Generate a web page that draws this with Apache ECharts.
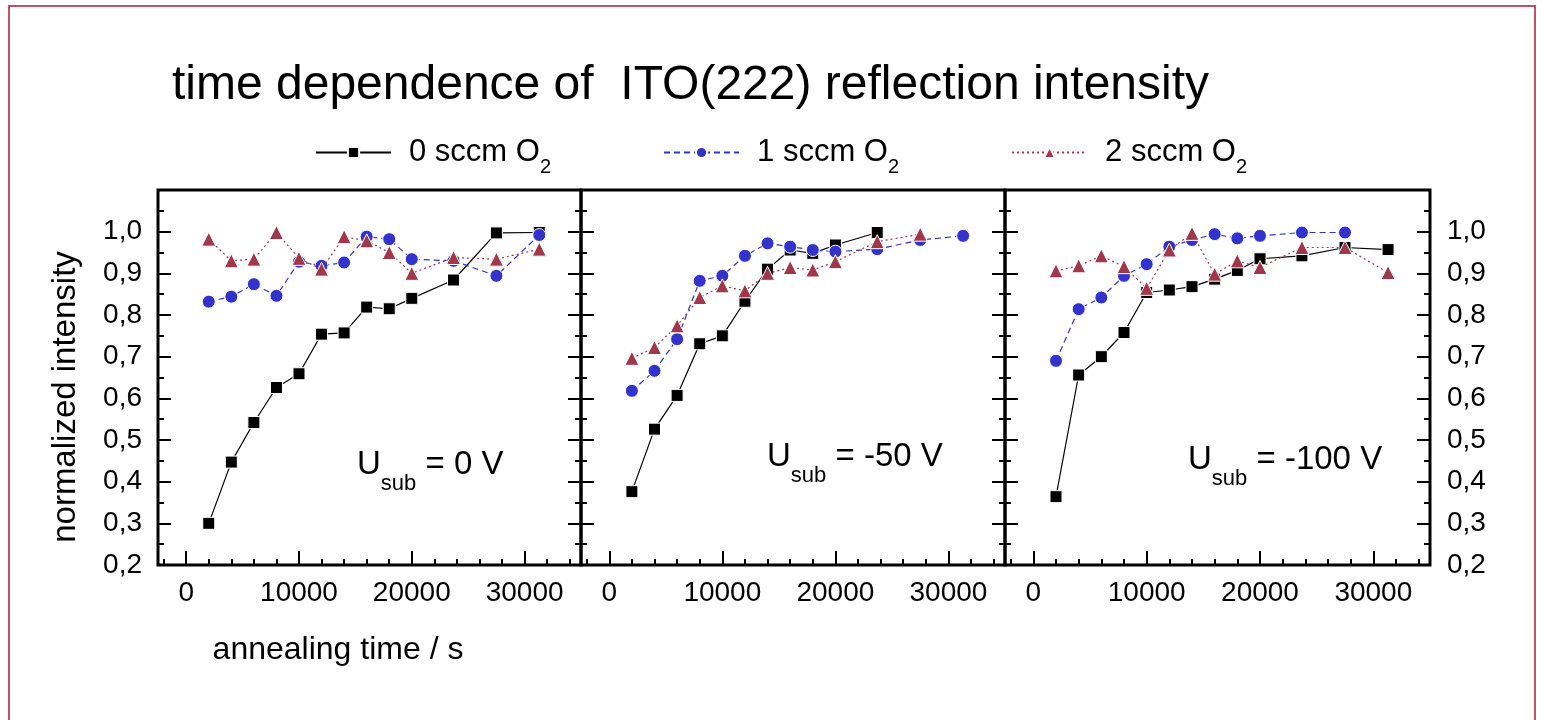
<!DOCTYPE html>
<html><head><meta charset="utf-8">
<script src="https://cdn.jsdelivr.net/npm/echarts@6/dist/echarts.min.js"></script>
<style>html,body{margin:0;padding:0;background:#fff}#c{width:1545px;height:720px}</style>
</head><body><div id="c"></div>
<script>
// ---- data ----
const times = [2000, 4000, 6000, 8000, 10000, 12000, 14000, 16000, 18000, 20000, 23700, 27500, 31300];
const seriesNames = ['0 sccm O2', '1 sccm O2', '2 sccm O2'];
const panelLabels = ['0 V', '-50 V', '-100 V'];
const xMajorTicks = [0, 10000, 20000, 30000];
const xMinorTicks = [-2000, 2000, 4000, 6000, 8000, 12000, 14000, 16000, 18000, 22000, 24000, 26000, 28000, 32000, 34000];

// U_sub = 0 V
const p1_0sccm = [0.300, 0.447, 0.542, 0.626, 0.659, 0.754, 0.757, 0.819, 0.815, 0.840, 0.884, 0.997, 0.998];
const p1_1sccm = [0.832, 0.844, 0.874, 0.846, 0.928, 0.918, 0.926, 0.988, 0.982, 0.934, 0.930, 0.894, 0.992];
const p1_2sccm = [0.982, 0.930, 0.934, 0.998, 0.936, 0.910, 0.988, 0.978, 0.950, 0.900, 0.938, 0.934, 0.958];
// U_sub = -50 V
const p2_0sccm = [0.376, 0.526, 0.607, 0.731, 0.750, 0.833, 0.910, 0.956, 0.948, 0.968, 0.998];
const p2_1sccm = [0.618, 0.666, 0.742, 0.882, 0.894, 0.942, 0.972, 0.964, 0.956, 0.952, 0.958, 0.980, 0.990];
const p2_2sccm = [0.696, 0.722, 0.774, 0.842, 0.870, 0.858, 0.900, 0.914, 0.908, 0.928, 0.976, 0.994];
// U_sub = -100 V
const p3_0sccm = [0.364, 0.656, 0.700, 0.758, 0.854, 0.860, 0.868, 0.886, 0.907, 0.935, 0.942, 0.962, 0.957];
const p3_1sccm = [0.690, 0.814, 0.842, 0.894, 0.922, 0.964, 0.980, 0.994, 0.984, 0.990, 0.998, 0.998];
const p3_2sccm = [0.906, 0.918, 0.942, 0.916, 0.864, 0.956, 0.996, 0.898, 0.930, 0.914, 0.962, 0.962, 0.902];

const panels = [
  [p1_0sccm, p1_1sccm, p1_2sccm],
  [p2_0sccm, p2_1sccm, p2_2sccm],
  [p3_0sccm, p3_1sccm, p3_2sccm]
];

// ---- style ----
const FONT = "'Liberation Sans', Arial, sans-serif";
const styles = [
  { symbol: 'rect', size: 12, color: '#000000', type: 'solid' },
  { symbol: 'circle', size: 13, color: '#3333cc', type: [6, 4] },
  { symbol: 'triangle', size: 14, color: '#a0374b', type: [2, 3] }
];
const gridLefts = [158, 581, 1005];
const gridWidths = [423, 424, 425];
const gridTop = 190, gridHeight = 375;
const annotPos = [[357, 435], [767, 427], [1188, 430]];

const grids = [], xAxes = [], yAxes = [], series = [];
const yFmt = v => (v > 1.05 ? '' : v.toFixed(1).replace('.', ','));

for (let i = 0; i < 3; i++) {
  grids.push({ left: gridLefts[i], top: gridTop, width: gridWidths[i], height: gridHeight,
    show: true, borderColor: '#000', borderWidth: 3, containLabel: false });
  // major x axis
  xAxes.push({ type: 'value', gridIndex: i, min: -2500, max: 35000, position: 'bottom',
    axisLine: { show: false, onZero: false }, splitLine: { show: false },
    axisTick: { show: true, inside: true, length: 14, customValues: xMajorTicks, lineStyle: { color: '#000', width: 2 } },
    axisLabel: { show: true, customValues: xMajorTicks, formatter: v => String(v), margin: 14, fontSize: 28, color: '#000', fontFamily: FONT }
  });
  // minor x axis
  xAxes.push({ type: 'value', gridIndex: i, min: -2500, max: 35000, position: 'bottom',
    axisLine: { show: false, onZero: false }, splitLine: { show: false },
    axisTick: { show: true, inside: true, length: 6, customValues: xMinorTicks, lineStyle: { color: '#000', width: 2 } },
    axisLabel: { show: false }
  });
  ['left', 'right'].forEach(pos => {
    const showLabel = (i === 0 && pos === 'left') || (i === 2 && pos === 'right');
    yAxes.push({ type: 'value', gridIndex: i, min: 0.2, max: 1.1, interval: 0.1, position: pos,
      axisLine: { show: false, onZero: false }, splitLine: { show: false },
      axisTick: { show: true, inside: true, length: 13, lineStyle: { color: '#000', width: 2 } },
      minorTick: { show: true, splitNumber: 2, length: 6, lineStyle: { color: '#000', width: 2 } },
      axisLabel: { show: showLabel, formatter: yFmt, margin: pos === 'left' ? 16 : 17, fontSize: 28, color: '#000', fontFamily: FONT }
    });
  });
  for (let s = 0; s < 3; s++) {
    const vals = panels[i][s];
    const st = styles[s];
    series.push({
      type: 'line', name: seriesNames[s], xAxisIndex: 2 * i, yAxisIndex: 2 * i,
      data: vals.map((v, k) => [times[k], v]),
      symbol: st.symbol, symbolSize: st.size, showAllSymbol: true,
      itemStyle: { color: st.color, borderColor: '#ffffff', borderWidth: 1 },
      lineStyle: { color: st.color, width: 1.2, type: st.type },
      emphasis: { disabled: true }, animation: false, z: 2 + s
    });
  }
}

const titles = [{
  text: 'time dependence of  ITO(222) reflection intensity', left: 172, top: 57, padding: 0,
  textStyle: { fontSize: 48, fontWeight: 'normal', lineHeight: 58, color: '#000', fontFamily: FONT }
}];
for (let i = 0; i < 3; i++) {
  titles.push({
    text: '{u|U}{s|sub}{u| = ' + panelLabels[i] + '}', left: annotPos[i][0], top: annotPos[i][1], padding: 0,
    textStyle: { fontWeight: 'normal', rich: {
      u: { fontSize: 33, fontWeight: 'normal', lineHeight: 60, verticalAlign: 'middle', color: '#000', fontFamily: FONT },
      s: { fontSize: 22, fontWeight: 'normal', lineHeight: 22, verticalAlign: 'bottom', color: '#000', fontFamily: FONT }
    } }
  });
}

const option = {
  backgroundColor: '#fff',
  animation: false,
  title: titles,
  legend: {
    data: seriesNames, left: 315, top: 137, padding: 0, itemWidth: 75, itemHeight: 14, itemGap: 112,
    selectedMode: false,
    formatter: n => '{m|' + n.slice(0, -1) + '}{s|' + n.slice(-1) + '}',
    textStyle: { rich: {
      m: { fontSize: 31, lineHeight: 50, verticalAlign: 'middle', padding: [0, 0, 0, 13], color: '#000', fontFamily: FONT },
      s: { fontSize: 20, lineHeight: 20, verticalAlign: 'bottom', color: '#000', fontFamily: FONT }
    } }
  },
  grid: grids, xAxis: xAxes, yAxis: yAxes, series: series,
  graphic: [
    { type: 'rect', shape: { x: 9, y: 6, width: 1526, height: 800 },
      style: { fill: 'none', stroke: '#c0506a', lineWidth: 2 }, silent: true },
    { type: 'text', x: 66, y: 397, rotation: Math.PI / 2,
      style: { text: 'normalized intensity', font: '33px ' + FONT, fill: '#000', align: 'center', verticalAlign: 'middle' } },
    { type: 'text', x: 338, y: 650,
      style: { text: 'annealing time / s', font: '32px ' + FONT, fill: '#000', align: 'center', verticalAlign: 'middle' } }
  ]
};
const chart = echarts.init(document.getElementById('c'));
chart.setOption(option);
</script>
</body></html>
